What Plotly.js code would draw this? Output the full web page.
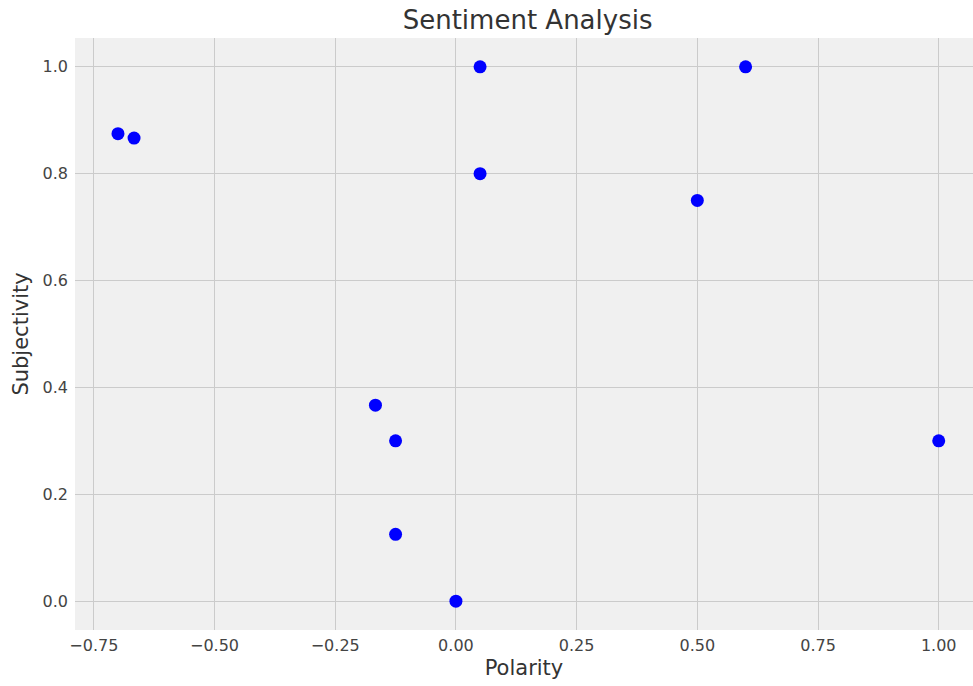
<!DOCTYPE html>
<html>
<head>
<meta charset="utf-8">
<script src="https://cdn.plot.ly/plotly-3.0.1.min.js"></script>
<style>html,body{margin:0;padding:0;background:#fff;}#chart{width:973px;height:686px;}</style>
</head>
<body>
<div id="chart"></div>
<script>
const polarity = [-0.7, -0.6667, 0.05, 0.05, 0.6, 0.5, -0.1667, -0.125, -0.125, 0.0, 1.0];
const subjectivity = [0.875, 0.8667, 1.0, 0.8, 1.0, 0.75, 0.3667, 0.3, 0.125, 0.0, 0.3];
const xTicks = [-0.75, -0.5, -0.25, 0, 0.25, 0.5, 0.75, 1.0];
const xTickLabels = ['\u22120.75', '\u22120.50', '\u22120.25', '0.00', '0.25', '0.50', '0.75', '1.00'];
const yTicks = [0, 0.2, 0.4, 0.6, 0.8, 1.0];
const yTickLabels = ['0.0', '0.2', '0.4', '0.6', '0.8', '1.0'];

const font = 'DejaVu Sans, sans-serif';
Plotly.newPlot('chart', [{
  x: polarity, y: subjectivity, type: 'scatter', mode: 'markers',
  marker: {color: '#0000ff', size: 13}
}], {
  width: 973, height: 686,
  margin: {l: 75, r: 0, t: 38, b: 56},
  paper_bgcolor: '#ffffff', plot_bgcolor: '#f0f0f0',
  title: {text: 'Sentiment Analysis', font: {family: font, size: 26, color: '#333'}, x: 0.504, xref: 'paper', xanchor: 'center', y: 0.971, yanchor: 'middle'},
  xaxis: {range: [-0.789, 1.071], tickvals: xTicks, ticktext: xTickLabels, gridcolor: '#cbcbcb', gridwidth: 1,
    zeroline: false, showline: false, ticks: '', tickfont: {family: font, size: 16, color: '#444'}, ticklabelstandoff: 4,
    title: {text: 'Polarity', font: {family: font, size: 21, color: '#333'}, standoff: 6}},
  yaxis: {range: [-0.054, 1.054], tickvals: yTicks, ticktext: yTickLabels, gridcolor: '#cbcbcb', gridwidth: 1,
    zeroline: false, showline: false, ticks: '', tickfont: {family: font, size: 16, color: '#444'}, ticklabelstandoff: 6,
    title: {text: 'Subjectivity', font: {family: font, size: 21, color: '#333'}, standoff: 8}},
  showlegend: false
}, {staticPlot: true});
</script>
</body>
</html>
